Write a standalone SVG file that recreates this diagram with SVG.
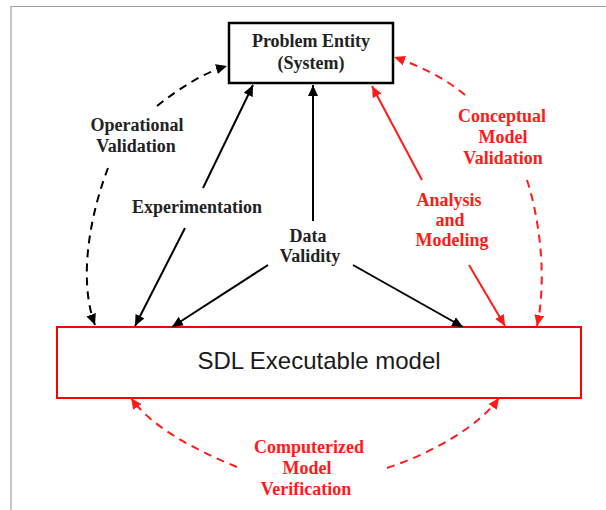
<svg xmlns="http://www.w3.org/2000/svg" width="606" height="510" viewBox="0 0 606 510">
<style>
.lbl{font-family:"Liberation Serif","Times New Roman",serif;font-weight:bold;font-size:18px;text-anchor:middle}
.blk{fill:#222}
.red{fill:#ff1a1a}
.ln{fill:none;stroke-width:2}
.k{stroke:#000}
.r{stroke:#ff1a1a}
.d{stroke-dasharray:8 6}
</style>
<defs>
<marker id="ak" markerUnits="userSpaceOnUse" markerWidth="12" markerHeight="10" refX="11" refY="5" orient="auto"><path d="M0,0 L11,5 L0,10 z" fill="#000"/></marker>
<marker id="ar" markerUnits="userSpaceOnUse" markerWidth="12" markerHeight="10" refX="11" refY="5" orient="auto"><path d="M0,0 L11,5 L0,10 z" fill="#ff1a1a"/></marker>
</defs>
<rect width="606" height="510" fill="#fff"/>
<path d="M11,510 V6.5 H606" fill="none" stroke="#a0a0a0" stroke-width="1.2"/>

<g id="problem">
<rect x="229" y="23" width="164" height="60" fill="#fff" stroke="#000" stroke-width="2.5"/>
<text class="lbl blk" x="311" y="47">Problem Entity</text>
<text class="lbl blk" x="311" y="69">(System)</text>
</g>

<g id="sdl">
<rect x="57" y="327" width="524" height="71" fill="#fff" stroke="#ff0000" stroke-width="2"/>
<text x="319" y="369" font-family="'Liberation Sans',Arial,sans-serif" font-size="24" fill="#1a1a1a" text-anchor="middle">SDL Executable model</text>
</g>

<g id="connectors">
<path class="ln k d" d="M108,168 C90,215 78,280 95,325" marker-end="url(#ak)"/>
<path class="ln k d" d="M157,106 C180,88 203,73 227,66" marker-end="url(#ak)"/>
<path class="ln k" d="M185,228 L135,326" marker-end="url(#ak)"/>
<path class="ln k" d="M203,188 L253,85" marker-end="url(#ak)"/>
<path class="ln k" d="M313,221 L313,85" marker-end="url(#ak)"/>
<path class="ln k" d="M268,265 L172,327" marker-end="url(#ak)"/>
<path class="ln k" d="M353,265 L463,327" marker-end="url(#ak)"/>
<path class="ln r" d="M422,180 L372,86" marker-end="url(#ar)"/>
<path class="ln r" d="M469,265 L505,326" marker-end="url(#ar)"/>
<path class="ln r d" d="M465,95 C445,78 420,66 394,57" marker-end="url(#ar)"/>
<path class="ln r d" d="M527,180 C540,220 547,280 537,326" marker-end="url(#ar)"/>
<path class="ln r d" d="M237,467 C190,448 150,425 131,398" marker-end="url(#ar)"/>
<path class="ln r d" d="M387,468 C435,452 480,425 499,398" marker-end="url(#ar)"/>
</g>

<g id="labels">
<text class="lbl blk" x="137" y="131">Operational</text>
<text class="lbl blk" x="136" y="152">Validation</text>
<text class="lbl blk" x="197" y="213">Experimentation</text>
<text class="lbl blk" x="308" y="242">Data</text>
<text class="lbl blk" x="310" y="262">Validity</text>
<text class="lbl red" x="449" y="206">Analysis</text>
<text class="lbl red" x="450" y="226">and</text>
<text class="lbl red" x="452" y="246">Modeling</text>
<text class="lbl red" x="502" y="122">Conceptual</text>
<text class="lbl red" x="503" y="143">Model</text>
<text class="lbl red" x="503" y="164">Validation</text>
<text class="lbl red" x="309" y="453">Computerized</text>
<text class="lbl red" x="307" y="474">Model</text>
<text class="lbl red" x="306" y="495">Verification</text>
</g>
</svg>
